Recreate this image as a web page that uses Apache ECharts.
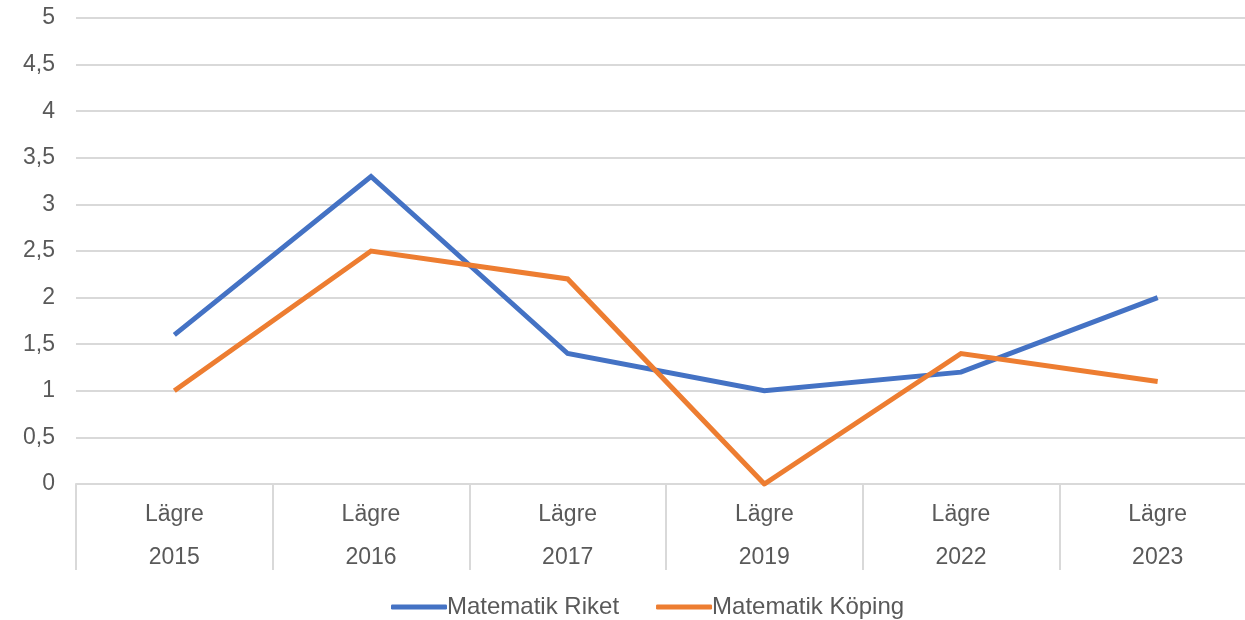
<!DOCTYPE html>
<html lang="sv">
<head>
  <meta charset="UTF-8">
  <title>Matematik Lägre</title>
  <script src="https://cdn.jsdelivr.net/npm/echarts@6/dist/echarts.min.js"></script>
  <style>
    html, body { margin: 0; padding: 0; background: #fff; overflow: hidden; }
    #chart { width: 1256px; height: 620px; }
  </style>
</head>
<body>
  <div id="chart"></div>
  <script>
    const years = ['2015', '2016', '2017', '2019', '2022', '2023']
    const level = 'Lägre'
    const riket = [1.6, 3.3, 1.4, 1.0, 1.2, 2.0]
    const koping = [1.0, 2.5, 2.2, 0, 1.4, 1.1]

    const chart = echarts.init(document.getElementById('chart'))
    const font = 'Liberation Sans, Arial, sans-serif'
    const categories = years.map(y => level + '\n' + y)

    chart.setOption({
      animation: false,
      grid: { left: 76, right: 0, top: 18, bottom: 136 },
      legend: {
        top: 590,
        left: 386,
        itemWidth: 56,
        itemHeight: 5,
        itemGap: 37,
        icon: 'roundRect',
        textStyle: { color: '#595959', fontSize: 24, fontFamily: font, padding: [0, 0, 0, -5] },
        data: ['Matematik Riket', 'Matematik Köping']
      },
      xAxis: {
        type: 'category',
        data: categories,
        boundaryGap: true,
        axisLine: { lineStyle: { color: '#d9d9d9', width: 2 } },
        axisTick: { show: true, interval: 0, length: 86, lineStyle: { color: '#d9d9d9', width: 2 } },
        axisLabel: {
          interval: 0,
          color: '#595959',
          fontSize: 23,
          fontFamily: font,
          lineHeight: 43,
          margin: 9
        }
      },
      yAxis: {
        type: 'value',
        min: 0,
        max: 5,
        interval: 0.5,
        axisLine: { show: false },
        axisTick: { show: false },
        splitLine: { lineStyle: { color: '#d9d9d9', width: 2 } },
        axisLabel: {
          color: '#595959',
          fontSize: 23,
          fontFamily: font,
          margin: 21,
          formatter: v => String(v).replace('.', ',')
        }
      },
      series: [
        {
          name: 'Matematik Riket',
          type: 'line',
          data: riket,
          symbol: 'none',
          lineStyle: { color: '#4472C4', width: 5, join: 'miter' },
          itemStyle: { color: '#4472C4' }
        },
        {
          name: 'Matematik Köping',
          type: 'line',
          data: koping,
          symbol: 'none',
          lineStyle: { color: '#ED7D31', width: 5, join: 'miter' },
          itemStyle: { color: '#ED7D31' }
        }
      ]
    })
  </script>
</body>
</html>
